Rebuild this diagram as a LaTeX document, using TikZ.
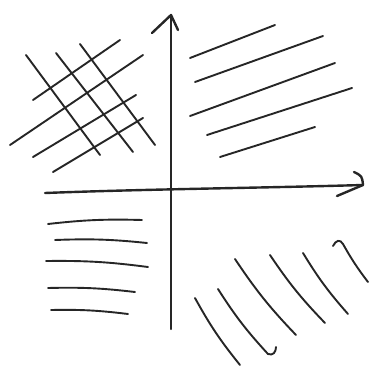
\documentclass[tikz,border=0pt]{standalone}
\usetikzlibrary{arrows.meta}
\begin{document}
\begin{tikzpicture}[x=1pt, y=-1pt,
  axis/.style={draw=black!85, line width=2.4pt, line cap=round, line join=round},
  hatch/.style={draw=black!85, line width=1.9pt, line cap=round}
]
\useasboundingbox (0,0) rectangle (375,369);

% axes
\coordinate (ytip) at (171,15);
\coordinate (xtip) at (363,185);
\draw[axis] (171,329) -- (ytip);
\draw[axis] (152,33) -- (ytip) -- (178,30);
\draw[axis] (45,193) .. controls (150,189) and (260,188) .. (xtip);
\draw[axis] (354,172) .. controls (362,176) .. (xtip) .. controls (350,190) .. (337,196);

% upper left: cross hatching
\foreach \xa/\ya/\xb/\yb in {26/55/100/155, 56/53/133/152, 80/44/155/145}
  \draw[hatch] (\xa,\ya) -- (\xb,\yb);
\foreach \xa/\ya/\xb/\yb in {33/100/120/40, 10/145/143/55, 33/157/136/95, 53/172/143/118}
  \draw[hatch] (\xa,\ya) -- (\xb,\yb);

% upper right
\foreach \xa/\ya/\xb/\yb in {190/58/275/25, 195/82/323/36, 190/116/335/63, 207/135/352/88, 220/157/315/127}
  \draw[hatch] (\xa,\ya) -- (\xb,\yb);

% lower left
\foreach \xa/\ya/\xb/\yb in {48/224/142/220, 55/240/147/243, 46/261/148/267, 48/288/135/292, 51/310/128/314}
  \draw[hatch] (\xa,\ya) to[bend left=4] (\xb,\yb);

% lower right
\foreach \xa/\ya/\xb/\yb in {195/298/240/365, 235/259/296/335, 270/255/325/323, 303/253/348/314}
  \draw[hatch] (\xa,\ya) to[bend right=5] (\xb,\yb);
\draw[hatch] (218,289) to[bend right=5] (268,354) .. controls (273,356) and (276,352) .. (276,347);
\draw[hatch] (333,246) .. controls (336,240) and (340,239) .. (343,244) to[bend right=4] (368,282);

\end{tikzpicture}
\end{document}
